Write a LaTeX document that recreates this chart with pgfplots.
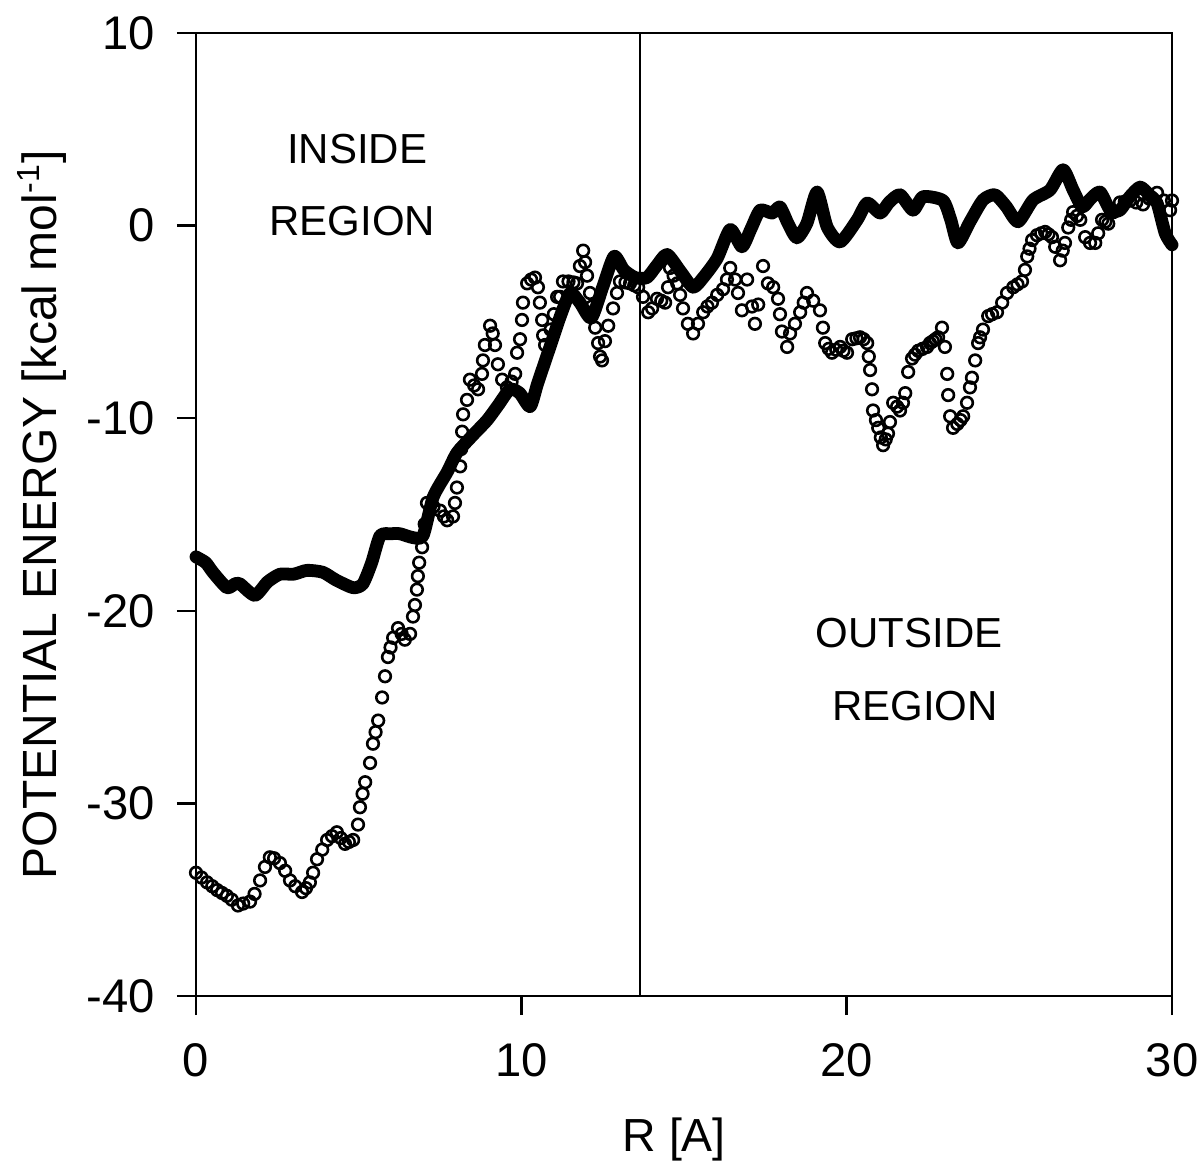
\documentclass[border=0pt]{standalone}
\usepackage{fontspec}
\setmainfont{Liberation Sans}
\usepackage{pgfplots}
\pgfplotsset{compat=1.18}
\begin{document}
\begin{tikzpicture}
\begin{axis}[
  scale only axis, width=244pt, height=240.75pt,
  xmin=0, xmax=30, ymin=-40, ymax=10,
  xtick={0,10,20,30}, ytick={-40,-30,-20,-10,0,10},
  xtick pos=left, ytick pos=left,
  tick align=outside, major tick length=4.8pt,
  tick style={line width=0.6pt, black},
  axis line style={line width=0.6pt},
  /pgf/number format/assume math mode=true,
  ticklabel style={font=\fontsize{11.8}{14}\selectfont},
  xticklabel style={yshift=-3.5pt},
  yticklabel style={xshift=-2pt},
  xlabel={R [A]},
  ylabel={POTENTIAL ENERGY [kcal mol\textsuperscript{-1}]},
  every axis x label/.style={at={(rel axis cs:0.49,-0.1495)}, anchor=center, font=\fontsize{11.6}{14}\selectfont},
  every axis y label/.style={at={(rel axis cs:-0.158,0.5)}, anchor=center, rotate=90, font=\fontsize{12}{14}\selectfont},
  clip=false,
]
\draw[line width=0.5pt] (axis cs:13.65,-40) -- (axis cs:13.65,10);

\addplot[black, line width=3.2pt, line join=round, line cap=round, mark=none, smooth, tension=0.4] coordinates {
(0.0,-17.2) (0.3,-17.5) (0.52,-18.0) (0.95,-18.8) (1.2,-18.6) (1.35,-18.6) (1.81,-19.2)
(2.2,-18.5) (2.58,-18.1) (3.0,-18.1) (3.41,-17.9) (3.9,-18.0) (4.3,-18.4) (4.83,-18.8)
(5.13,-18.6) (5.4,-17.5) (5.66,-16.1) (6.0,-16.0) (6.27,-16.0) (6.67,-16.2) (6.98,-16.1)
(7.29,-14.1) (7.72,-12.8) (8.02,-11.8) (8.5,-10.9) (8.95,-10.1) (9.3,-9.3) (9.65,-8.5)
(9.95,-8.7) (10.27,-9.4) (10.5,-8.2) (10.88,-6.3) (11.2,-4.7) (11.5,-3.5) (11.8,-4.0)
(12.15,-4.8) (12.5,-3.2) (12.85,-1.6) (13.15,-2.3) (13.5,-2.7) (13.86,-2.7) (14.15,-2.1)
(14.48,-1.5) (14.9,-2.4) (15.28,-3.2) (15.59,-2.7) (16.02,-1.7) (16.42,-0.2) (16.78,-1.1)
(17.05,-0.2) (17.34,0.8) (17.71,0.65) (17.95,0.97) (18.2,0.1) (18.47,-0.64) (18.78,0.13)
(19.09,1.74) (19.4,-0.07) (19.8,-0.85) (20.32,0.29) (20.63,1.17) (21.03,0.65) (21.3,1.2)
(21.64,1.6) (22.04,0.8) (22.35,1.5) (22.96,1.3) (23.2,0.3) (23.42,-0.9) (23.79,0.2)
(24.19,1.33) (24.56,1.6) (24.9,1.0) (25.27,0.2) (25.73,1.33) (26.25,1.85) (26.65,2.9)
(26.96,1.85) (27.24,0.97) (27.5,1.4) (27.79,1.74) (28.1,0.8) (28.4,0.8) (28.7,1.5)
(29.02,2.0) (29.3,1.6) (29.54,1.17) (29.79,-0.4) (30.0,-1.0)
};

\addplot[only marks, mark=o, mark size=1.45pt, mark options={line width=0.65pt, draw=black, fill=white}] coordinates {
(0.0,-33.6) (0.17,-33.85) (0.34,-34.1) (0.5,-34.3) (0.65,-34.5) (0.8,-34.65) (0.95,-34.8)
(1.1,-35.0) (1.29,-35.3) (1.45,-35.2) (1.66,-35.1) (1.8,-34.7) (1.97,-34.0) (2.12,-33.3)
(2.27,-32.8) (2.4,-32.85) (2.58,-33.1) (2.74,-33.5) (2.89,-34.0) (3.05,-34.3) (3.26,-34.6)
(3.38,-34.4) (3.5,-34.1) (3.6,-33.6) (3.72,-32.9) (3.88,-32.4) (4.03,-31.9) (4.18,-31.7)
(4.33,-31.5) (4.45,-31.8) (4.58,-32.1) (4.7,-32.0) (4.83,-31.9) (4.98,-31.1) (5.04,-30.2)
(5.12,-29.5) (5.2,-28.9) (5.35,-27.9) (5.44,-26.9) (5.52,-26.3) (5.6,-25.7) (5.72,-24.5)
(5.81,-23.4) (5.9,-22.4) (5.98,-21.9) (6.06,-21.4) (6.21,-20.9) (6.32,-21.2) (6.42,-21.5)
(6.58,-21.2) (6.67,-20.3) (6.73,-19.7) (6.79,-18.9) (6.82,-18.2) (6.86,-17.5) (6.95,-16.7)
(7.03,-15.5) (7.1,-14.4) (7.3,-14.6) (7.5,-14.8) (7.62,-15.1) (7.72,-15.3) (7.9,-15.1)
(7.96,-14.4) (8.02,-13.6) (8.12,-12.5) (8.15,-11.6) (8.18,-10.7) (8.21,-9.8) (8.33,-9.05)
(8.42,-8.0) (8.55,-8.3) (8.67,-8.5) (8.79,-7.7) (8.82,-7.0) (8.88,-6.2) (9.04,-5.2)
(9.12,-5.6) (9.19,-6.2) (9.28,-7.2) (9.41,-8.0) (9.56,-8.4) (9.7,-8.1) (9.81,-7.7)
(9.87,-6.6) (9.96,-5.9) (10.02,-4.9) (10.05,-4.0) (10.18,-3.0) (10.3,-2.8) (10.42,-2.7)
(10.51,-3.2) (10.57,-4.0) (10.64,-4.9) (10.67,-5.7) (10.73,-6.2) (10.9,-5.4) (11.0,-4.6)
(11.1,-3.7) (11.19,-3.7) (11.28,-2.9) (11.45,-2.9) (11.6,-2.95) (11.71,-3.0) (11.8,-2.1)
(11.9,-1.3) (11.96,-1.9) (12.02,-2.6) (12.11,-3.5) (12.17,-4.2) (12.27,-5.3) (12.36,-6.1)
(12.42,-6.8) (12.48,-7.0) (12.57,-6.0) (12.67,-5.2) (12.82,-4.3) (12.94,-3.5) (13.03,-2.9)
(13.2,-2.95) (13.34,-3.0) (13.47,-3.1) (13.59,-3.2) (13.74,-3.7) (13.9,-4.5) (14.02,-4.3)
(14.17,-3.8) (14.3,-3.9) (14.42,-4.0) (14.51,-3.2) (14.57,-2.2) (14.68,-2.6) (14.79,-3.0)
(14.88,-3.6) (14.97,-4.3) (15.12,-5.1) (15.28,-5.6) (15.43,-5.1) (15.59,-4.5) (15.72,-4.2)
(15.86,-4.0) (16.02,-3.6) (16.2,-3.3) (16.32,-2.8) (16.42,-2.2) (16.57,-2.8) (16.66,-3.5)
(16.78,-4.4) (16.94,-2.8) (17.09,-4.2) (17.18,-5.1) (17.28,-4.1) (17.43,-2.1) (17.58,-3.0)
(17.74,-3.2) (17.89,-3.8) (17.95,-4.6) (18.01,-5.5) (18.17,-6.3) (18.26,-5.6) (18.41,-5.1)
(18.57,-4.5) (18.68,-4.0) (18.78,-3.5) (18.97,-3.9) (19.18,-4.4) (19.27,-5.3) (19.34,-6.1)
(19.45,-6.4) (19.55,-6.6) (19.68,-6.45) (19.8,-6.3) (19.9,-6.5) (20.01,-6.6) (20.17,-5.9)
(20.3,-5.85) (20.41,-5.8) (20.52,-5.9) (20.63,-6.1) (20.68,-6.8) (20.72,-7.5) (20.78,-8.5)
(20.81,-9.6) (20.9,-10.1) (20.97,-10.5) (21.05,-11.0) (21.12,-11.4) (21.2,-11.1) (21.27,-10.8)
(21.33,-10.2) (21.43,-9.2) (21.55,-9.4) (21.64,-9.6) (21.73,-9.2) (21.8,-8.7) (21.89,-7.6)
(22.01,-6.9) (22.1,-6.7) (22.2,-6.5) (22.33,-6.4) (22.47,-6.3) (22.56,-6.1) (22.65,-6.0)
(22.73,-5.9) (22.81,-5.8) (22.93,-5.3) (23.02,-6.3) (23.09,-7.7) (23.12,-8.8) (23.18,-9.9)
(23.27,-10.5) (23.4,-10.3) (23.5,-10.1) (23.58,-9.9) (23.7,-9.2) (23.79,-8.4) (23.85,-7.9)
(23.95,-7.0) (24.04,-6.1) (24.1,-5.8) (24.19,-5.4) (24.35,-4.7) (24.47,-4.6) (24.62,-4.5)
(24.78,-4.0) (24.93,-3.5) (25.12,-3.2) (25.25,-3.05) (25.39,-2.9) (25.48,-2.3) (25.55,-1.6)
(25.62,-1.2) (25.7,-0.75) (25.85,-0.5) (25.98,-0.4) (26.1,-0.33) (26.2,-0.45) (26.31,-0.6)
(26.41,-1.1) (26.56,-1.8) (26.64,-1.3) (26.71,-0.9) (26.81,-0.1) (26.9,0.3) (26.96,0.7)
(27.08,0.5) (27.18,0.3) (27.33,-0.6) (27.48,-0.9) (27.64,-0.9) (27.73,-0.4) (27.85,0.3)
(27.95,0.2) (28.04,0.1) (28.2,0.7) (28.4,1.2) (28.55,1.25) (28.71,1.3) (28.9,1.2)
(29.11,1.1) (29.3,1.4) (29.54,1.7) (29.75,1.3) (29.94,0.8) (30.0,1.3)
};

\node[font=\fontsize{10.5}{12}\selectfont] at (axis cs:4.95,4.0) {INSIDE};
\node[font=\fontsize{10.5}{12}\selectfont] at (axis cs:4.8,0.25) {REGION};
\node[font=\fontsize{10.5}{12}\selectfont] at (axis cs:21.92,-21.15) {OUTSIDE};
\node[font=\fontsize{10.5}{12}\selectfont] at (axis cs:22.1,-24.95) {REGION};
\end{axis}
\pgfresetboundingbox
\path ([shift={(-49pt,-44pt)}]current axis.south west) rectangle ([shift={(8pt,8.25pt)}]current axis.north east);
\end{tikzpicture}
\end{document}
